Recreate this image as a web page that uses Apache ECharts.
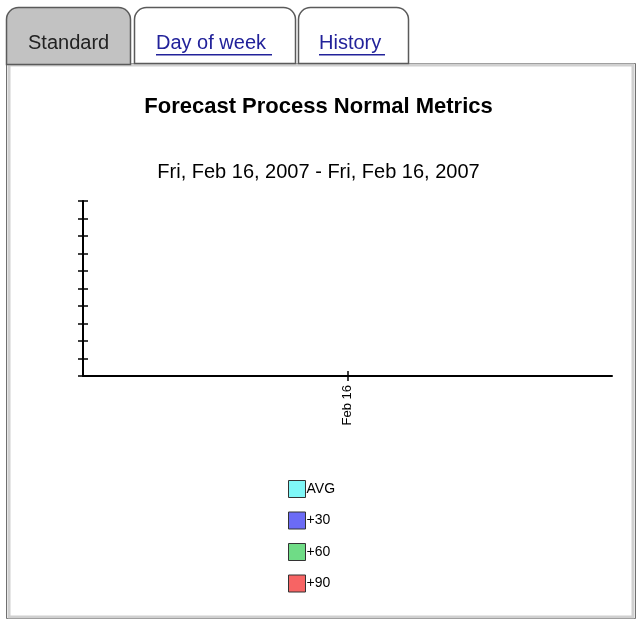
<!DOCTYPE html>
<html>
<head>
<meta charset="utf-8">
<script src="https://cdn.jsdelivr.net/npm/echarts@6/dist/echarts.min.js"></script>
<style>
  html, body { margin: 0; padding: 0; background: #fff; }
  #chart { width: 637px; height: 621px; }
</style>
</head>
<body>
<div id="chart"></div>
<script>
// chart data
var categories = ['Feb 16'];
var seriesNames = ['AVG', '+30', '+60', '+90'];
var avgValues = [null];
var plus30Values = [null];
var plus60Values = [null];
var plus90Values = [null];
var seriesColors = ['#7ff7f7', '#6b6bf5', '#6fdc86', '#f76464'];
var tabNames = ['Standard', 'Day of week', 'History'];

var font = 'Liberation Sans, Arial, sans-serif';

var chartDom = document.getElementById('chart');
var myChart = echarts.init(chartDom, null, { renderer: 'canvas' });

var valueLists = [avgValues, plus30Values, plus60Values, plus90Values];
var series = [];
for (var i = 0; i < seriesNames.length; i++) {
  series.push({
    name: seriesNames[i],
    type: 'bar',
    data: valueLists[i],
    itemStyle: { color: seriesColors[i], borderColor: '#222', borderWidth: 1 }
  });
}

var tickStyle = { color: '#000', width: 1.5 };

// helper axis: only draws the tick at the category centre (value 1 of 0..2)
function centreTickAxis(inside) {
  return {
    type: 'value',
    position: 'bottom',
    min: 0, max: 2, interval: 1,
    axisLine: { show: false },
    axisTick: { show: true, inside: inside, length: 5, customValues: [1], lineStyle: tickStyle },
    axisLabel: { show: false },
    splitLine: { show: false }
  };
}

var option = {
  animation: false,
  title: [
    {
      text: 'Forecast Process Normal Metrics',
      left: 'center',
      top: 91,
      textStyle: { fontFamily: font, fontSize: 22, fontWeight: 'bold', color: '#000' }
    },
    {
      text: 'Fri, Feb 16, 2007 - Fri, Feb 16, 2007',
      left: 'center',
      top: 157,
      textStyle: { fontFamily: font, fontSize: 20, fontWeight: 'normal', color: '#000' }
    }
  ],
  legend: {
    orient: 'vertical',
    left: 283,
    top: 475,
    itemWidth: 17,
    itemHeight: 17,
    itemGap: 13.5,
    icon: 'rect',
    data: seriesNames,
    itemStyle: { borderColor: '#333', borderWidth: 1 },
    textStyle: { fontFamily: font, fontSize: 14, color: '#000', padding: [0, 0, 0, -4] }
  },
  grid: { left: 83, right: 25, top: 201, bottom: 245 },
  xAxis: [
    {
      type: 'category',
      data: categories,
      z: 3,
      axisLine: { lineStyle: { color: '#000', width: 2 } },
      axisTick: { show: false },
      axisLabel: { rotate: 90, margin: 9, fontFamily: font, fontSize: 13, color: '#000' }
    },
    centreTickAxis(true),
    centreTickAxis(false)
  ],
  yAxis: [
    {
      type: 'value',
      min: 0, max: 10, interval: 1,
      z: 3,
      axisLine: { show: true, lineStyle: { color: '#000', width: 2 } },
      axisTick: { show: true, length: 5, lineStyle: tickStyle },
      axisLabel: { show: false },
      splitLine: { show: false }
    },
    {
      type: 'value',
      position: 'left',
      min: 0, max: 10, interval: 1,
      axisLine: { show: false },
      axisTick: { show: true, inside: true, length: 5, lineStyle: tickStyle },
      axisLabel: { show: false },
      splitLine: { show: false }
    }
  ],
  series: series,
  graphic: [
    // panel frame
    { type: 'rect', z: -10, shape: { x: 6.5, y: 63.5, width: 629, height: 555 },
      style: { fill: '#fff', stroke: '#707070', lineWidth: 1 } },
    { type: 'rect', z: -9, shape: { x: 9, y: 65, width: 624, height: 552 },
      style: { fill: 'none', stroke: '#d0d0d0', lineWidth: 3 } },
    // tabs
    { type: 'rect', z: -8, shape: { x: 6.5, y: 7.5, width: 124, height: 57, r: [12, 12, 0, 0] },
      style: { fill: '#c2c2c2', stroke: '#5a5a5a', lineWidth: 1.5 } },
    { type: 'rect', z: -8, shape: { x: 134.5, y: 7.5, width: 161, height: 56, r: [12, 12, 0, 0] },
      style: { fill: '#fff', stroke: '#5a5a5a', lineWidth: 1.5 } },
    { type: 'rect', z: -8, shape: { x: 298.5, y: 7.5, width: 110, height: 56, r: [12, 12, 0, 0] },
      style: { fill: '#fff', stroke: '#5a5a5a', lineWidth: 1.5 } },
    { type: 'text', z: -7, left: 28, top: 33,
      style: { text: tabNames[0], font: '20px ' + font, fill: '#222' } },
    { type: 'text', z: -7, left: 156, top: 33,
      style: { text: tabNames[1], font: '20px ' + font, fill: '#22229a' } },
    { type: 'rect', z: -7, shape: { x: 156, y: 54, width: 116, height: 1.5 }, style: { fill: '#22229a' } },
    { type: 'text', z: -7, left: 319, top: 33,
      style: { text: tabNames[2], font: '20px ' + font, fill: '#22229a' } },
    { type: 'rect', z: -7, shape: { x: 319, y: 54, width: 66, height: 1.5 }, style: { fill: '#22229a' } }
  ]
};

option && myChart.setOption(option);
</script>
</body>
</html>
